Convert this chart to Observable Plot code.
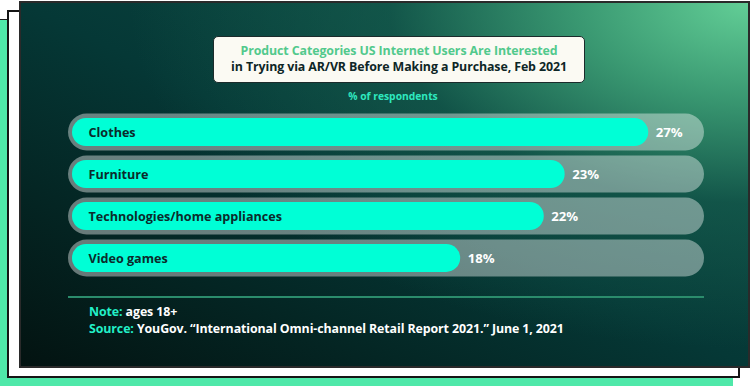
<!DOCTYPE html>
<html>
<head>
<meta charset="utf-8">
<script src="https://cdn.jsdelivr.net/npm/d3@7"></script>
<script src="https://cdn.jsdelivr.net/npm/@observablehq/plot@0.6"></script>
<style>
  html, body { margin: 0; padding: 0; background: #ffffff; }
  body { width: 750px; height: 386px; position: relative; overflow: hidden; font-family: "Open Sans", sans-serif; }
  .green { position: absolute; left: 0; top: 19px; width: 733px; height: 380px; background: #4fe8a9; border-top: 1.5px solid #1c1c1c; box-sizing: border-box; }
  .white { position: absolute; left: 7px; top: 10px; width: 733px; height: 368px; background: #ffffff; border: 2px solid #151515; box-sizing: border-box; }
  .card { position: absolute; left: 19px; top: 1px; width: 731px; height: 367px; box-sizing: border-box; border: 2px solid #2a2a2a;
    background:
      radial-gradient(ellipse 85% 95% at 100% 0%, rgba(98,206,150,1) 0%, rgba(62,160,118,0.9) 28%, rgba(25,100,82,0.55) 58%, rgba(12,74,68,0) 100%),
      linear-gradient(to top right, #031311 0%, #053836 50%, #0f5048 100%);
  }
  .titlebox { position: absolute; left: 213px; top: 36px; width: 372px; height: 47px; background: #fbfaf3; border: 1.5px solid #1b2b2b; border-radius: 5px; box-sizing: border-box; text-align: center; font-weight: 700; font-size: 12.4px; line-height: 16px; padding-top: 6px; letter-spacing: -0.1px; }
  .t1 { color: #52c98c; }
  .t2 { color: #0e2626; }
  .sub { position: absolute; left: 296px; width: 194px; top: 89px; text-align: center; color: #2ee8bf; font-weight: 700; font-size: 10.3px; }
  .rule { position: absolute; left: 68px; top: 296px; width: 636px; height: 2px; background: #2b8c6c; }
  .notes { position: absolute; left: 89px; top: 303px; color: #ffffff; font-weight: 700; font-size: 12.4px; line-height: 17px; letter-spacing: -0.1px; }
  .notes .k { color: #22f0c8; }
  #chart { position: absolute; left: 0; top: 0; }
</style>
</head>
<body>
<div class="green"></div>
<div class="white"></div>
<div class="card"></div>
<div class="titlebox"><div class="t1">Product Categories US Internet Users Are Interested</div><div class="t2">in Trying via AR/VR Before Making a Purchase, Feb 2021</div></div>
<div class="sub">% of respondents</div>
<div id="chart"></div>
<div class="rule"></div>
<div class="notes"><div><span class="k">Note:</span> ages 18+</div><div><span class="k">Source:</span> YouGov. “International Omni-channel Retail Report 2021.” June 1, 2021</div></div>
<script>
const categories = ["Clothes", "Furniture", "Technologies/home appliances", "Video games"];
const values = [27, 23, 22, 18];
const valueLabels = ["27%", "23%", "22%", "18%"];
const trackMax = 29.5;

const data = categories.map((c, i) => ({category: c, value: values[i], label: valueLabels[i], track: trackMax}));

const chart = Plot.plot({
  width: 750,
  height: 386,
  marginLeft: 84,
  marginRight: 49.5,
  marginTop: 108.5,
  marginBottom: 104.5,
  style: {background: "transparent", fontFamily: "Open Sans, sans-serif", overflow: "visible"},
  x: {domain: [0, trackMax], axis: null},
  y: {domain: categories, padding: 0.12, round: false, axis: null},
  marks: [
    Plot.barX(data, {x1: 0, x2: "track", y: "category", fill: "#ffffff", fillOpacity: 0.4, rx: 18.5, insetLeft: -16, insetRight: -3.5}),
    Plot.barX(data, {x1: 0, x2: "value", y: "category", fill: "#00ffd6", rx: 14, insetTop: 4.5, insetBottom: 4.5, insetLeft: -12}),
    Plot.text(data, {x: 0, y: "category", text: "category", textAnchor: "start", dx: 4, fill: "#0b2b2b", fontWeight: 700, fontSize: 12.6}),
    Plot.text(data, {x: "value", y: "category", text: "label", textAnchor: "start", dx: 7, fill: "#ffffff", fontWeight: 700, fontSize: 13.2})
  ]
});
document.getElementById("chart").appendChild(chart);
</script>
</body>
</html>
